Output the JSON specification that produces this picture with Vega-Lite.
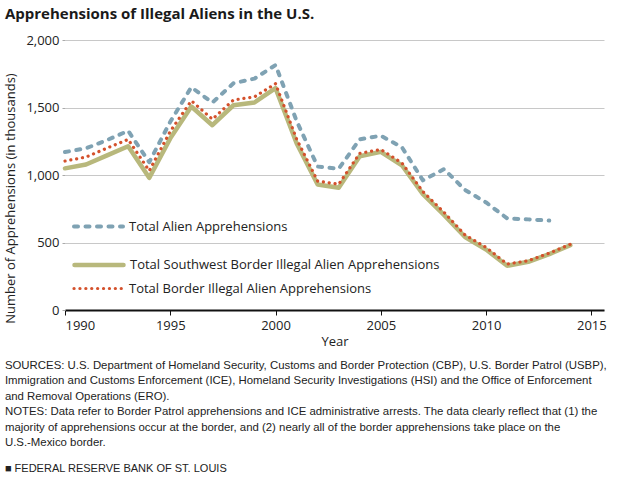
{
  "$schema": "https://vega.github.io/schema/vega-lite/v6.json",
  "padding": {"left": 4, "top": 7, "right": 5, "bottom": 5},
  "background": "white",
  "config": {
    "view": {"stroke": null},
    "font": "Open Sans",
    "axis": {"labelFont": "Open Sans", "titleFont": "Open Sans", "labelColor": "#222222", "titleColor": "#222222", "titleFontWeight": "normal"},
    "legend": {"title": null, "symbolType": "stroke", "symbolSize": 2401, "labelFontSize": 13, "labelFont": "Open Sans", "labelColor": "#222222", "labelOffset": 4, "padding": 0, "labelLimit": 400}
  },
  "title": {
    "text": "Apprehensions of Illegal Aliens in the U.S.",
    "anchor": "start",
    "font": "Open Sans",
    "fontSize": 15,
    "fontWeight": "bold",
    "color": "#1a1a1a",
    "offset": 12
  },
  "datasets": {
    "apprehensions": [
      {"year": 1990, "series": "Total Alien Apprehensions", "value": 1169.9},
      {"year": 1991, "series": "Total Alien Apprehensions", "value": 1197.9},
      {"year": 1992, "series": "Total Alien Apprehensions", "value": 1258.5},
      {"year": 1993, "series": "Total Alien Apprehensions", "value": 1327.3},
      {"year": 1994, "series": "Total Alien Apprehensions", "value": 1094.7},
      {"year": 1995, "series": "Total Alien Apprehensions", "value": 1394.6},
      {"year": 1996, "series": "Total Alien Apprehensions", "value": 1650.0},
      {"year": 1997, "series": "Total Alien Apprehensions", "value": 1536.5},
      {"year": 1998, "series": "Total Alien Apprehensions", "value": 1679.4},
      {"year": 1999, "series": "Total Alien Apprehensions", "value": 1714.0},
      {"year": 2000, "series": "Total Alien Apprehensions", "value": 1814.7},
      {"year": 2001, "series": "Total Alien Apprehensions", "value": 1400.0},
      {"year": 2002, "series": "Total Alien Apprehensions", "value": 1062.3},
      {"year": 2003, "series": "Total Alien Apprehensions", "value": 1046.4},
      {"year": 2004, "series": "Total Alien Apprehensions", "value": 1264.2},
      {"year": 2005, "series": "Total Alien Apprehensions", "value": 1291.1},
      {"year": 2006, "series": "Total Alien Apprehensions", "value": 1206.4},
      {"year": 2007, "series": "Total Alien Apprehensions", "value": 960.7},
      {"year": 2008, "series": "Total Alien Apprehensions", "value": 1043.8},
      {"year": 2009, "series": "Total Alien Apprehensions", "value": 889.2},
      {"year": 2010, "series": "Total Alien Apprehensions", "value": 796.6},
      {"year": 2011, "series": "Total Alien Apprehensions", "value": 678.6},
      {"year": 2012, "series": "Total Alien Apprehensions", "value": 671.3},
      {"year": 2013, "series": "Total Alien Apprehensions", "value": 662.5},
      {"year": 1990, "series": "Total Southwest Border Illegal Alien Apprehensions", "value": 1049.3},
      {"year": 1991, "series": "Total Southwest Border Illegal Alien Apprehensions", "value": 1077.9},
      {"year": 1992, "series": "Total Southwest Border Illegal Alien Apprehensions", "value": 1145.6},
      {"year": 1993, "series": "Total Southwest Border Illegal Alien Apprehensions", "value": 1212.9},
      {"year": 1994, "series": "Total Southwest Border Illegal Alien Apprehensions", "value": 979.1},
      {"year": 1995, "series": "Total Southwest Border Illegal Alien Apprehensions", "value": 1271.4},
      {"year": 1996, "series": "Total Southwest Border Illegal Alien Apprehensions", "value": 1507.0},
      {"year": 1997, "series": "Total Southwest Border Illegal Alien Apprehensions", "value": 1368.7},
      {"year": 1998, "series": "Total Southwest Border Illegal Alien Apprehensions", "value": 1516.7},
      {"year": 1999, "series": "Total Southwest Border Illegal Alien Apprehensions", "value": 1537.0},
      {"year": 2000, "series": "Total Southwest Border Illegal Alien Apprehensions", "value": 1643.7},
      {"year": 2001, "series": "Total Southwest Border Illegal Alien Apprehensions", "value": 1235.7},
      {"year": 2002, "series": "Total Southwest Border Illegal Alien Apprehensions", "value": 929.8},
      {"year": 2003, "series": "Total Southwest Border Illegal Alien Apprehensions", "value": 905.1},
      {"year": 2004, "series": "Total Southwest Border Illegal Alien Apprehensions", "value": 1139.3},
      {"year": 2005, "series": "Total Southwest Border Illegal Alien Apprehensions", "value": 1171.4},
      {"year": 2006, "series": "Total Southwest Border Illegal Alien Apprehensions", "value": 1072.0},
      {"year": 2007, "series": "Total Southwest Border Illegal Alien Apprehensions", "value": 858.6},
      {"year": 2008, "series": "Total Southwest Border Illegal Alien Apprehensions", "value": 705.0},
      {"year": 2009, "series": "Total Southwest Border Illegal Alien Apprehensions", "value": 540.9},
      {"year": 2010, "series": "Total Southwest Border Illegal Alien Apprehensions", "value": 447.7},
      {"year": 2011, "series": "Total Southwest Border Illegal Alien Apprehensions", "value": 327.6},
      {"year": 2012, "series": "Total Southwest Border Illegal Alien Apprehensions", "value": 356.9},
      {"year": 2013, "series": "Total Southwest Border Illegal Alien Apprehensions", "value": 414.4},
      {"year": 2014, "series": "Total Southwest Border Illegal Alien Apprehensions", "value": 479.4},
      {"year": 1990, "series": "Total Border Illegal Alien Apprehensions", "value": 1103.4},
      {"year": 1991, "series": "Total Border Illegal Alien Apprehensions", "value": 1132.9},
      {"year": 1992, "series": "Total Border Illegal Alien Apprehensions", "value": 1199.6},
      {"year": 1993, "series": "Total Border Illegal Alien Apprehensions", "value": 1263.5},
      {"year": 1994, "series": "Total Border Illegal Alien Apprehensions", "value": 1031.7},
      {"year": 1995, "series": "Total Border Illegal Alien Apprehensions", "value": 1324.2},
      {"year": 1996, "series": "Total Border Illegal Alien Apprehensions", "value": 1549.9},
      {"year": 1997, "series": "Total Border Illegal Alien Apprehensions", "value": 1413.0},
      {"year": 1998, "series": "Total Border Illegal Alien Apprehensions", "value": 1555.8},
      {"year": 1999, "series": "Total Border Illegal Alien Apprehensions", "value": 1579.0},
      {"year": 2000, "series": "Total Border Illegal Alien Apprehensions", "value": 1676.4},
      {"year": 2001, "series": "Total Border Illegal Alien Apprehensions", "value": 1266.2},
      {"year": 2002, "series": "Total Border Illegal Alien Apprehensions", "value": 955.3},
      {"year": 2003, "series": "Total Border Illegal Alien Apprehensions", "value": 931.6},
      {"year": 2004, "series": "Total Border Illegal Alien Apprehensions", "value": 1160.4},
      {"year": 2005, "series": "Total Border Illegal Alien Apprehensions", "value": 1189.1},
      {"year": 2006, "series": "Total Border Illegal Alien Apprehensions", "value": 1089.1},
      {"year": 2007, "series": "Total Border Illegal Alien Apprehensions", "value": 876.7},
      {"year": 2008, "series": "Total Border Illegal Alien Apprehensions", "value": 723.8},
      {"year": 2009, "series": "Total Border Illegal Alien Apprehensions", "value": 556.0},
      {"year": 2010, "series": "Total Border Illegal Alien Apprehensions", "value": 463.4},
      {"year": 2011, "series": "Total Border Illegal Alien Apprehensions", "value": 340.3},
      {"year": 2012, "series": "Total Border Illegal Alien Apprehensions", "value": 364.8},
      {"year": 2013, "series": "Total Border Illegal Alien Apprehensions", "value": 420.8},
      {"year": 2014, "series": "Total Border Illegal Alien Apprehensions", "value": 486.7}
    ]
  },
  "vconcat": [
    {
      "width": 539,
      "height": 270,
      "data": {"name": "apprehensions"},
      "title": {
        "text": [
          "SOURCES: U.S. Department of Homeland Security, Customs and Border Protection (CBP), U.S. Border Patrol (USBP),",
          "Immigration and Customs Enforcement (ICE), Homeland Security Investigations (HSI) and the Office of Enforcement",
          "and Removal Operations (ERO).",
          "NOTES: Data refer to Border Patrol apprehensions and ICE administrative arrests. The data clearly reflect that (1) the",
          "majority of apprehensions occur at the border, and (2) nearly all of the border apprehensions take place on the",
          "U.S.-Mexico border."
        ],
        "subtitle": "■  FEDERAL RESERVE BANK OF ST. LOUIS",
        "orient": "bottom",
        "anchor": "start",
        "font": "Liberation Sans",
        "fontSize": 11.4,
        "fontWeight": "normal",
        "color": "#222222",
        "lineHeight": 15.4,
        "subtitleFont": "Liberation Sans",
        "subtitleFontSize": 11,
        "subtitleColor": "#222222",
        "subtitlePadding": 15,
        "offset": 12
      },
      "encoding": {
        "x": {
          "field": "year",
          "type": "quantitative",
          "scale": {"domain": [1990, 2015.6], "nice": false, "zero": false},
          "axis": {
            "title": "Year",
            "titleFontSize": 13,
            "titlePadding": 3,
            "values": [1990, 1995, 2000, 2005, 2010, 2015],
            "format": "d",
            "grid": false,
            "domainColor": "#111111",
            "domainWidth": 2,
            "tickColor": "#111111",
            "tickSize": 5,
            "tickWidth": 1,
            "labelFontSize": 13,
            "labelPadding": 4
          }
        },
        "y": {
          "field": "value",
          "type": "quantitative",
          "scale": {"domain": [0, 2000], "nice": false},
          "axis": {
            "title": "Number of Apprehensions (in thousands)",
            "titleFontSize": 13,
            "titlePadding": 8,
            "titleY": 158,
            "values": [0, 500, 1000, 1500, 2000],
            "format": ",d",
            "grid": true,
            "gridColor": "#c8c8c8",
            "gridWidth": 1,
            "domain": false,
            "tickSize": 3,
            "tickColor": "#aaaaaa",
            "labelFontSize": 13,
            "labelPadding": 3
          }
        }
      },
      "layer": [
        {
          "transform": [{"filter": "datum.series === 'Total Southwest Border Illegal Alien Apprehensions'"}],
          "mark": {"type": "line", "strokeWidth": 4.5, "strokeCap": "round", "strokeJoin": "round"},
          "encoding": {
            "color": {"field": "series", "type": "nominal", "scale": {"domain": ["Total Southwest Border Illegal Alien Apprehensions"], "range": ["#b8b87c"]},
              "legend": {"orient": "none", "legendX": 7, "legendY": 198, "symbolStrokeWidth": 4.5,
                "encode": {"symbols": {"update": {"strokeCap": {"value": "round"}}}}}}
          }
        },
        {
          "transform": [{"filter": "datum.series === 'Total Border Illegal Alien Apprehensions'"}],
          "mark": {"type": "line", "strokeWidth": 3.2, "strokeCap": "round", "strokeJoin": "round"},
          "encoding": {
            "color": {"field": "series", "type": "nominal", "scale": {"domain": ["Total Border Illegal Alien Apprehensions"], "range": ["#d4512c"]},
              "legend": {"orient": "none", "legendX": 7, "legendY": 222, "symbolStrokeWidth": 3.2,
                "encode": {"symbols": {"update": {"strokeCap": {"value": "round"}}}}}},
            "strokeDash": {"field": "series", "type": "nominal", "scale": {"domain": ["Total Border Illegal Alien Apprehensions"], "range": [[0.1, 5.8]]},
              "legend": {"orient": "none", "legendX": 7, "legendY": 222, "symbolStrokeWidth": 3.2}}
          }
        },
        {
          "transform": [{"filter": "datum.series === 'Total Alien Apprehensions'"}],
          "mark": {"type": "line", "strokeWidth": 4, "strokeCap": "round", "strokeJoin": "round"},
          "encoding": {
            "color": {"field": "series", "type": "nominal", "scale": {"domain": ["Total Alien Apprehensions"], "range": ["#7fa2b3"]},
              "legend": {"orient": "none", "legendX": 7, "legendY": 160, "symbolStrokeWidth": 4,
                "encode": {"symbols": {"update": {"strokeCap": {"value": "round"}}}}}},
            "strokeDash": {"field": "series", "type": "nominal", "scale": {"domain": ["Total Alien Apprehensions"], "range": [[4, 7.5]]},
              "legend": {"orient": "none", "legendX": 7, "legendY": 160, "symbolStrokeWidth": 4}}
          }
        }
      ],
      "resolve": {"scale": {"color": "independent", "strokeDash": "independent"}, "legend": {"color": "independent", "strokeDash": "independent"}}
    }
  ]
}
